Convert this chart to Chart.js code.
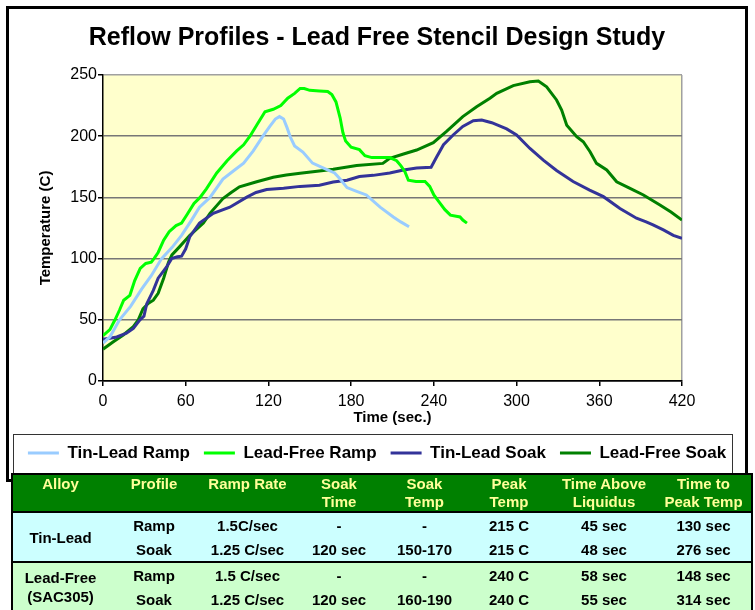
<!DOCTYPE html>
<html>
<head>
<meta charset="utf-8">
<script src="https://cdn.jsdelivr.net/npm/chart.js@4.4.1/dist/chart.umd.min.js"></script>
<style>
  body { margin: 0; width: 755px; height: 610px; position: relative; overflow: hidden; background: #fff; }
  #frame { position: absolute; left: 6px; top: 6px; width: 736px; height: 470px; border: 3px solid #000; }
  #wrap { position: absolute; left: 9px; top: 9px; width: 736px; height: 466px; }
  #specs { position: absolute; left: 11px; top: 473px; border-collapse: collapse; border: 2px solid #000;
    font: bold 15px "Liberation Sans", Arial, sans-serif; text-align: center; table-layout: fixed; }
  #specs th { background: #008000; color: #FFFF99; height: 36px; line-height: 18px; padding: 0; vertical-align: top;
    border-bottom: 2px solid #000; font-weight: bold; }
  #specs td { padding: 0; height: 24px; line-height: 19px; }
  #specs tr.snpb td { background: #CCFFFF; }
  #specs tr.pbfree td { background: #CCFFCC; }
  #specs tr.first td { border-top: 2px solid #000; }
</style>
</head>
<body>
<div id="frame"></div>
<div id="wrap"><canvas id="myChart" width="736" height="466"></canvas></div>

<table id="specs">
  <colgroup>
    <col style="width:96px"><col style="width:92px"><col style="width:95px"><col style="width:88px">
    <col style="width:83px"><col style="width:86px"><col style="width:104px"><col style="width:96px">
  </colgroup>
  <tr><th>Alloy</th><th>Profile</th><th>Ramp Rate</th><th>Soak<br>Time</th><th>Soak<br>Temp</th><th>Peak<br>Temp</th><th>Time Above<br>Liquidus</th><th>Time to<br>Peak Temp</th></tr>
  <tr class="snpb"><td rowspan="2">Tin-Lead</td><td>Ramp</td><td>1.5C/sec</td><td>-</td><td>-</td><td>215 C</td><td>45 sec</td><td>130 sec</td></tr>
  <tr class="snpb"><td>Soak</td><td>1.25 C/sec</td><td>120 sec</td><td>150-170</td><td>215 C</td><td>48 sec</td><td>276 sec</td></tr>
  <tr class="pbfree first"><td rowspan="2" style="line-height:19px">Lead-Free<br>(SAC305)</td><td>Ramp</td><td>1.5 C/sec</td><td>-</td><td>-</td><td>240 C</td><td>58 sec</td><td>148 sec</td></tr>
  <tr class="pbfree"><td>Soak</td><td>1.25 C/sec</td><td>120 sec</td><td>160-190</td><td>240 C</td><td>55 sec</td><td>314 sec</td></tr>
</table>

<script>
//Reflow profiles (time in sec, temperature in C)
const tinLeadRampTime = [0, 5, 12, 20, 28, 35, 42.5, 50, 57, 64, 70, 77.6, 87, 95, 102, 109, 116, 121, 125, 128,
  131, 133.5, 136, 139, 145, 152, 160, 168, 172, 177, 184, 191, 201, 210.6, 216, 222];
const tinLeadRampTemp = [31, 36, 50, 61, 75, 86, 100, 109, 119, 131, 142, 150, 165, 172, 178, 188, 200, 208, 214, 216,
  214, 207, 199, 192, 187, 178, 174, 170, 165, 158, 155, 152, 142, 134, 130, 126];

const leadFreeRampTime = [0, 5, 8.7, 12, 15, 19.5, 23, 27, 31, 35, 37, 40, 44, 48, 53, 57, 61, 66, 70.4, 75,
  82.5, 90, 97, 102, 106.6, 112, 117.5, 123.5, 129, 134, 139, 143, 146, 150, 157, 163, 166, 169, 172, 174,
  176, 180, 186, 190, 195, 208, 213, 216, 219, 221.5, 227, 233.6, 237, 240, 244, 248, 252, 259, 261, 264];
const leadFreeRampTemp = [37, 42, 50, 58, 66, 70, 82, 92, 96, 97, 100, 105, 115, 122, 127, 129, 136, 145, 150, 157,
  170, 180, 188, 193, 200, 210, 220, 222, 225, 231, 235, 239, 239, 237.5, 237, 236.5, 234, 228, 215, 203,
  196, 191, 189, 184, 182.5, 182.5, 180, 176, 171, 164, 163, 163, 159, 152, 146, 140, 135.5, 134, 131.5, 129];

const tinLeadSoakTime = [0, 5, 10, 17, 22, 26.8, 29.7, 31.7, 36.5, 40, 46, 49.8, 54, 57, 60, 63, 70, 80, 92, 104,
  111, 118.7, 131, 143, 157, 167, 177, 186, 196, 208, 218, 227.5, 238, 242, 247, 254, 261, 268.6, 274.7, 282,
  292.8, 300, 309.7, 319.4, 329, 341, 353, 363, 375, 387, 394, 399, 406.5, 413.7, 420];
const tinLeadSoakTemp = [34, 35, 36, 39, 43, 50, 53, 63, 74, 84, 93, 100, 101.5, 102, 108, 118, 129, 137, 142, 150,
  154, 156.5, 157.5, 159, 160, 162.5, 164, 167, 168, 170, 172.4, 174, 174.6, 183, 193, 201, 208, 212.7, 213.2, 211,
  206, 201, 190, 180.5, 172, 163, 156, 150.6, 141, 133, 130, 127.5, 123.4, 119, 116.5];

const leadFreeSoakTime = [0, 7.5, 14.7, 22, 25.6, 29, 33, 36.5, 40, 44, 47.5, 50, 55.8, 63, 72.8, 77.6, 87, 93, 99, 111.5,
  123.5, 133, 143, 160, 167, 184, 203, 208, 218, 227.5, 239.6, 249, 261, 271, 280.7, 285.6, 297.6, 309.7, 315.8, 321.8,
  329, 332.7, 336.4, 343.6, 348.4, 353.3, 358, 365.4, 372.6, 382.3, 392, 404, 412, 420];
const leadFreeSoakTemp = [26, 32, 37.6, 44.4, 50, 59, 63.5, 66, 71.6, 84, 97, 103, 110, 119, 129, 137, 149, 154, 158.7, 162.8,
  166.4, 168.3, 169.7, 172, 173, 176, 177.8, 182, 185.5, 188.7, 194.7, 203.7, 216, 224, 231, 235, 241.3, 244.5, 245, 240.4,
  229.6, 221.4, 209, 199.6, 195.5, 187.3, 177.8, 172.4, 162.8, 157.4, 152, 143.8, 138, 131.5];

const timeTicks = [0, 60, 120, 180, 240, 300, 360, 420];
const tempTicks = [0, 50, 100, 150, 200, 250];

const FONT = "'Liberation Sans', Arial, sans-serif";

//zip two arrays into {x, y} points
function toPoints(xs, ys) {
  return xs.map((x, i) => ({ x: x, y: ys[i] }));
}

function series(label, xs, ys, color) {
  return {
    label: label,
    data: toPoints(xs, ys),
    borderColor: color,
    backgroundColor: color,
    borderWidth: 3,
    pointRadius: 0,
    tension: 0,
    fill: false,
  };
}

//yellow plot background + box round the legend
const plotFrame = {
  id: "plotFrame",
  beforeDraw(chart) {
    const { ctx, chartArea: a } = chart;
    ctx.save();
    ctx.fillStyle = "#FFFFCC";
    ctx.fillRect(a.left, a.top, a.right - a.left, a.bottom - a.top);
    ctx.restore();
  },
  afterDraw(chart) {
    const boxes = chart.legend.legendHitBoxes;
    if (!boxes || !boxes.length) return;
    const left = Math.min(...boxes.map((b) => b.left)) - 15;
    const right = Math.max(...boxes.map((b) => b.left + b.width)) + 6;
    const top = boxes[0].top - 11;
    const bottom = boxes[0].top + boxes[0].height + 11;
    const ctx = chart.ctx;
    ctx.save();
    ctx.strokeStyle = "#333";
    ctx.lineWidth = 1;
    ctx.strokeRect(Math.round(left) + 0.5, Math.round(top) + 0.5, Math.round(right - left), Math.round(bottom - top));
    ctx.restore();
  },
};

const ctx = document.getElementById("myChart");
const myChart = new Chart(ctx, {
  type: "line",
  data: {
    datasets: [
      series("Tin-Lead Ramp", tinLeadRampTime, tinLeadRampTemp, "#99CCFF"),
      series("Lead-Free Ramp", leadFreeRampTime, leadFreeRampTemp, "#00FF00"),
      series("Tin-Lead Soak", tinLeadSoakTime, tinLeadSoakTemp, "#333399"),
      series("Lead-Free Soak", leadFreeSoakTime, leadFreeSoakTemp, "#008000"),
    ],
  },
  options: {
    responsive: false,
    animation: false,
    layout: { padding: { top: 0, left: 0, right: 0, bottom: 3.5 } },
    scales: {
      x: {
        type: "linear",
        min: 0,
        max: 420,
        afterBuildTicks: (scale) => { scale.ticks = timeTicks.map((v) => ({ value: v })); },
        afterFit: (scale) => { scale.height = 49.5; },
        grid: {
          color: (c) => (c.tick && c.tick.value === 420 ? "#a0a0a0" : "rgba(0,0,0,0)"),
          tickColor: "#000",
          tickLength: 5,
          lineWidth: 1.5,
        },
        border: { color: "#000", width: 1.5 },
        ticks: { color: "#000", font: { family: FONT, size: 16 }, padding: 6, maxRotation: 0 },
        title: {
          display: true,
          text: "Time (sec.)",
          color: "#000",
          font: { family: FONT, size: 15, weight: "bold" },
          padding: { top: 0, bottom: 3.5 },
        },
      },
      y: {
        min: 0,
        max: 250,
        afterBuildTicks: (scale) => { scale.ticks = tempTicks.map((v) => ({ value: v })); },
        afterFit: (scale) => { scale.width = 94; },
        grid: {
          color: (c) => (c.tick && c.tick.value === 250 ? "#a0a0a0" : c.tick && c.tick.value === 0 ? "#000" : "#777"),
          tickColor: "#000",
          tickLength: 5,
          lineWidth: 1.5,
        },
        border: { color: "#000", width: 1.5 },
        ticks: { color: "#000", font: { family: FONT, size: 16 }, padding: 1 },
        title: {
          display: true,
          text: "Temperature (C)",
          color: "#000",
          font: { family: FONT, size: 15, weight: "bold" },
          padding: { top: 28, bottom: 0 },
        },
      },
      //empty axis on the right, only keeps the plot where it is
      yPad: {
        position: "right",
        afterFit: (scale) => { scale.width = 63; },
        grid: { display: false },
        border: { display: false },
        ticks: { display: false },
      },
    },
    plugins: {
      title: {
        display: true,
        text: "Reflow Profiles - Lead Free Stencil Design Study",
        color: "#000",
        font: { family: FONT, size: 25, weight: "bold" },
        padding: { top: 14.6, bottom: 21.4 },
      },
      legend: {
        position: "bottom",
        labels: {
          color: "#000",
          font: { family: FONT, size: 17, weight: "bold" },
          boxWidth: 31,
          boxHeight: 3,
          padding: 14,
          generateLabels: (chart) =>
            Chart.defaults.plugins.legend.labels.generateLabels(chart).map((l) => ({ ...l, lineWidth: 0 })),
        },
      },
      tooltip: { enabled: false },
    },
  },
  plugins: [plotFrame],
});
</script>
</body>
</html>
